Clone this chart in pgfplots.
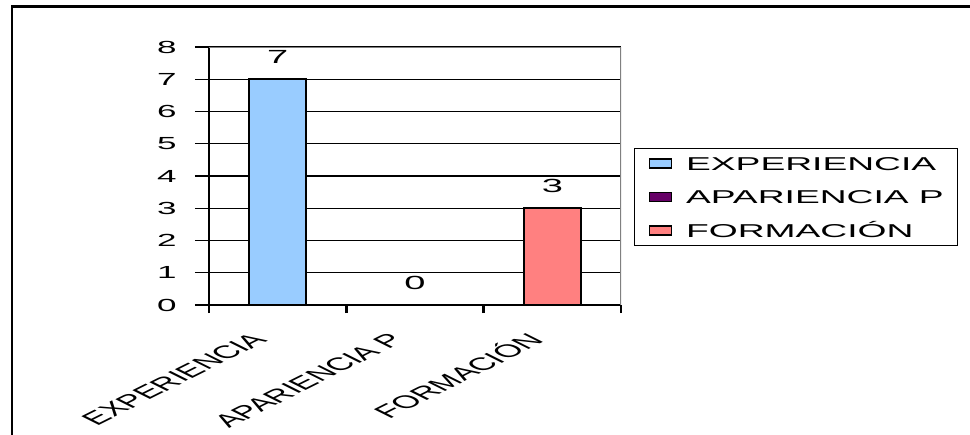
\documentclass[border=0pt]{standalone}
\usepackage{fontspec}
\setmainfont{Liberation Sans}[FakeStretch=2]
\newfontfamily\plainfont{Liberation Sans}
\usepackage{pgfplots}
\pgfplotsset{compat=1.18}

\definecolor{expblue}{HTML}{99CCFF}
\definecolor{apapurple}{HTML}{660066}
\definecolor{forsalmon}{HTML}{FF8080}

\newcommand{\tickfont}{\fontsize{17.5bp}{20bp}\selectfont}
\newcommand{\datafont}{\fontsize{19bp}{22bp}\selectfont}
\newcommand{\legfont}{\fontsize{18.6bp}{22bp}\selectfont}

\begin{document}
\begin{tikzpicture}
% page area
\path[use as bounding box] (-209bp,-130bp) rectangle (761bp,305bp);
% outer chart frame
\draw[line width=2.5bp] (-197bp,-200bp) -- (-197bp,298.5bp) -- (800bp,298.5bp);
\begin{axis}[
  at={(0,0)}, anchor=south west,
  scale only axis,
  width=412bp, height=258bp,
  ybar, bar width=57bp, bar shift=0pt,
  xmin=-0.5, xmax=2.5,
  ymin=0, ymax=8,
  ytick={0,1,...,8},
  xtick={0,1,2},
  xticklabels={EXPERIENCIA, APARIENCIA P, FORMACIÓN},
  minor xtick={-0.5,0.5,1.5,2.5},
  axis x line=bottom, axis y line=left,
  x axis line style={-, line width=1.2bp},
  y axis line style={-, line width=2.5bp},
  tick align=outside,
  major tick length=14bp,
  minor tick length=8bp,
  major x tick style={draw=none},
  minor x tick style={line width=2.5bp, black},
  major y tick style={line width=1.2bp, black},
  ymajorgrids,
  major grid style={line width=1.2bp, black},
  /pgf/number format/assume math mode=true,
  yticklabel style={font=\tickfont, xshift=-15bp},
  xticklabel style={font=\plainfont\fontsize{18bp}{20bp}\selectfont,
    inner sep=0pt, anchor=east, xshift=-18bp, yshift=-17bp,
    xscale=2, rotate=45},
  nodes near coords,
  every node near coord/.append style={font=\datafont, anchor=center, yshift=22bp},
  legend style={
    at={(1.0316,0.6085)}, anchor=north west,
    draw=black, line width=1.2bp,
    font=\legfont,
    inner xsep=14bp, inner ysep=8bp,
    row sep=20bp, column sep=14bp,
    nodes={inner sep=0pt, text height=13.5bp, text depth=0bp},
    cells={anchor=west},
  },
  legend image code/.code={\draw[#1, line width=1.5bp] (0bp,-4.5bp) rectangle (22bp,4.5bp);},
]
\addplot[fill=expblue, draw=black, line width=2bp] coordinates {(0,7)};
\addplot[fill=apapurple, draw=black, line width=2bp] coordinates {(1,0)};
\addplot[fill=forsalmon, draw=black, line width=2bp] coordinates {(2,3)};
\legend{EXPERIENCIA, APARIENCIA P, FORMACIÓN}
% top and right plot-area borders
\draw[gray, line width=1.5bp] (rel axis cs:0,1) -- (rel axis cs:1,1);
\draw[gray, line width=2.5bp] (rel axis cs:1,1) -- (rel axis cs:1,0);
\end{axis}
\end{tikzpicture}
\end{document}
